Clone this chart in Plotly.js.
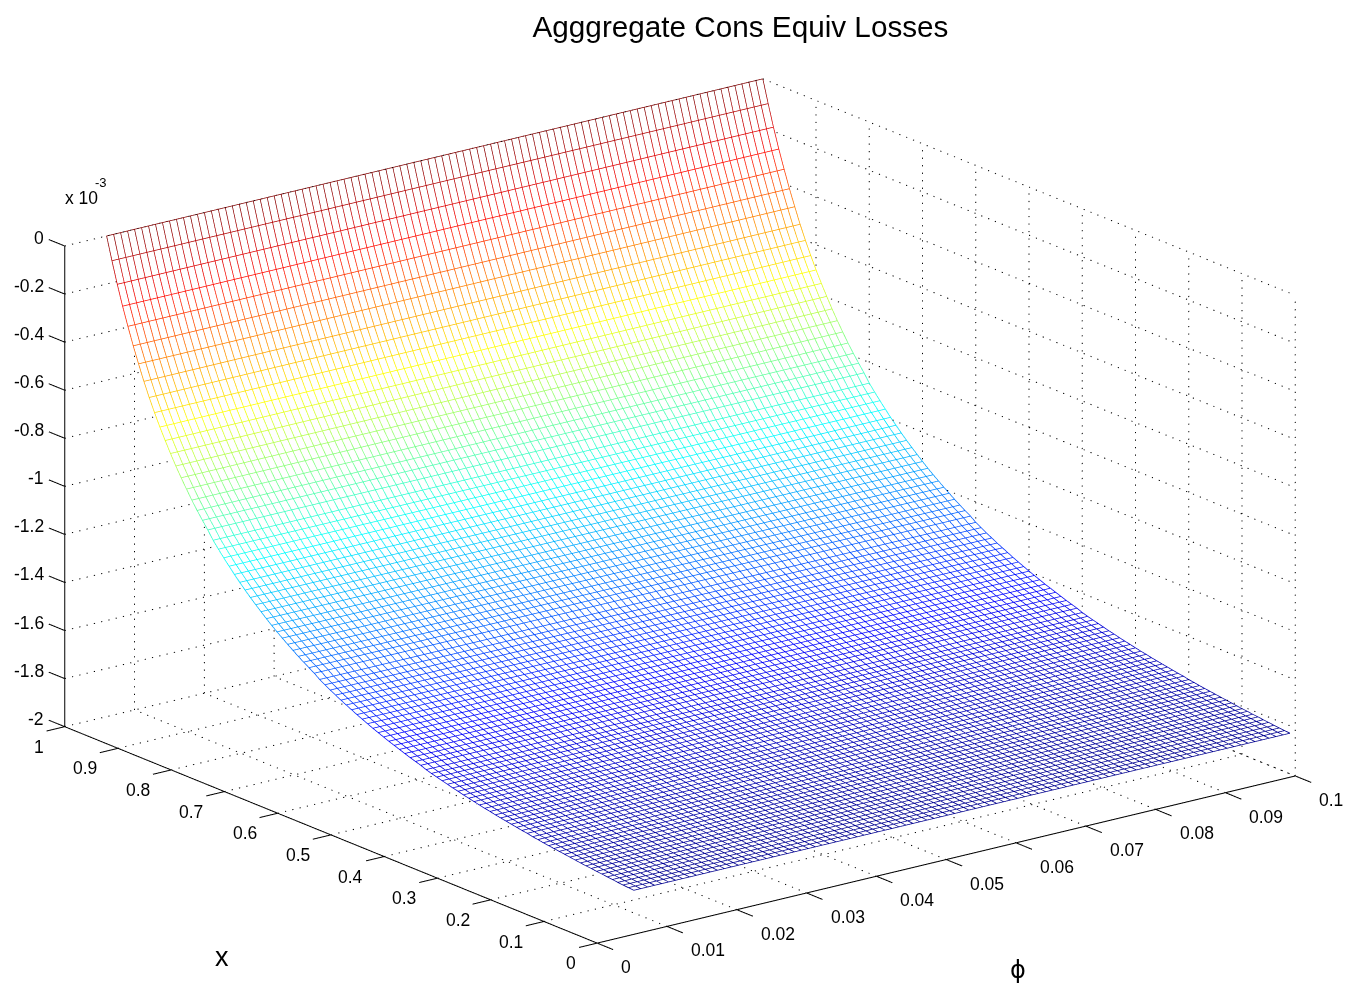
<!DOCTYPE html>
<html><head><meta charset="utf-8">
<script src="https://cdn.plot.ly/plotly-3.0.1.min.js"></script>
<style>html,body{margin:0;padding:0;background:#fff}#c{width:1348px;height:984px}</style>
</head><body><div id="c"></div>
<script>
// x rows, from the back edge (x=1) to the front edge (x=0.01)
const xRows = [1,.99,.98,.97,.96,.95,.94,.93,.92,.91,.90,.89,.88,.87,.86,.85,.84,.83,.82,.81,.80,.79,.78,.77,.76,.75,.74,.73,.72,.71,.70,.69,.68,.67,.66,.65,.64,.63,.62,.61,.60,.59,.58,.57,.56,.55,.54,.53,.52,.51,.50,.49,.48,.47,.46,.45,.44,.43,.42,.41,.40,.39,.38,.37,.36,.35,.34,.33,.32,.31,.30,.29,.28,.27,.26,.25,.24,.23,.22,.21,.20,.19,.18,.17,.16,.15,.14,.13,.12,.11,.10,.09,.08,.07,.06,.05,.04,.03,.02,.01];
// loss (x 10^-3) read along the surface edge for each x row
const lossByX = [0,-.094,-.183,-.265,-.340,-.412,-.478,-.542,-.600,-.654,-.705,-.752,-.797,-.840,-.880,-.918,-.955,-.989,-1.021,-1.052,-1.086,-1.114,-1.141,-1.167,-1.192,-1.216,-1.239,-1.261,-1.282,-1.302,-1.322,-1.341,-1.359,-1.376,-1.393,-1.409,-1.425,-1.440,-1.454,-1.468,-1.485,-1.498,-1.511,-1.523,-1.535,-1.546,-1.557,-1.568,-1.578,-1.588,-1.598,-1.607,-1.616,-1.625,-1.633,-1.641,-1.649,-1.657,-1.664,-1.671,-1.680,-1.687,-1.693,-1.699,-1.705,-1.711,-1.716,-1.722,-1.727,-1.732,-1.737,-1.742,-1.746,-1.751,-1.755,-1.759,-1.763,-1.767,-1.771,-1.774,-1.779,-1.782,-1.786,-1.789,-1.792,-1.795,-1.798,-1.801,-1.804,-1.807,-1.810,-1.812,-1.815,-1.817,-1.820,-1.822,-1.825,-1.827,-1.829,-1.831];
// phi columns
const phiCols = [.006,.007,.008,.009,.010,.011,.012,.013,.014,.015,.016,.017,.018,.019,.020,.021,.022,.023,.024,.025,.026,.027,.028,.029,.030,.031,.032,.033,.034,.035,.036,.037,.038,.039,.040,.041,.042,.043,.044,.045,.046,.047,.048,.049,.050,.051,.052,.053,.054,.055,.056,.057,.058,.059,.060,.061,.062,.063,.064,.065,.066,.067,.068,.069,.070,.071,.072,.073,.074,.075,.076,.077,.078,.079,.080,.081,.082,.083,.084,.085,.086,.087,.088,.089,.090,.091,.092,.093,.094,.095,.096,.097,.098,.099,.100];
const phiTicks = [0,.01,.02,.03,.04,.05,.06,.07,.08,.09,.1];
const xTicks = [0,.1,.2,.3,.4,.5,.6,.7,.8,.9,1];
const zTicks = [0,-.2,-.4,-.6,-.8,-1,-1.2,-1.4,-1.6,-1.8,-2];
const phiMax=.1, xMax=1, zMin=-2, zMax=0;
const tickPhi=.0026, tickX=.03;

const jet=[[0,'rgb(0,0,143)'],[.11,'rgb(0,0,255)'],[.365,'rgb(0,255,255)'],[.615,'rgb(255,255,0)'],[.865,'rgb(255,0,0)'],[1,'rgb(128,0,0)']];
const hideOffset=.004;
function segs(list){const o={x:[],y:[],z:[]};list.forEach(s=>{o.x.push(s[0][0],s[1][0],null);o.y.push(s[0][1],s[1][1],null);o.z.push(s[0][2],s[1][2],null);});return o;}
// split one grid line into short dots, MATLAB-style
function dotted(s,n,out){for(let i=0;i<n;i++){const f0=i/n,f1=(i+.16)/n;
  const p=f=>[0,1,2].map(k=>s[0][k]+(s[1][k]-s[0][k])*f);out.push([p(f0),p(f1)]);}}

const fill={type:'surface',x:phiCols,y:xRows,z:lossByX.map(v=>phiCols.map(()=>v-hideOffset)),
  surfacecolor:lossByX.map(()=>phiCols.map(()=>0)),colorscale:[[0,'#fff'],[1,'#fff']],cmin:0,cmax:1,showscale:false,
  lighting:{ambient:1,diffuse:0,specular:0,roughness:1,fresnel:0},hoverinfo:'skip'};

const mx=[],my=[],mz=[],mc=[];
xRows.forEach((xv,i)=>{phiCols.forEach(p=>{mx.push(p);my.push(xv);mz.push(lossByX[i]);mc.push(lossByX[i]);});mx.push(null);my.push(null);mz.push(null);mc.push(0);});
phiCols.forEach(p=>{xRows.forEach((xv,i)=>{mx.push(p);my.push(xv);mz.push(lossByX[i]);mc.push(lossByX[i]);});mx.push(null);my.push(null);mz.push(null);mc.push(0);});
const mesh={type:'scatter3d',mode:'lines',x:mx,y:my,z:mz,line:{color:mc,colorscale:jet,cmin:-1.831,cmax:0,width:1.5,showscale:false},hoverinfo:'skip',showlegend:false};

const dotsPhi=96,dotsX=78,dotsZ=64;
const g=[];
xTicks.forEach(t=>{dotted([[0,t,zMin],[phiMax,t,zMin]],dotsPhi,g);dotted([[phiMax,t,zMin],[phiMax,t,zMax]],dotsZ,g);});
phiTicks.forEach(t=>{dotted([[t,0,zMin],[t,xMax,zMin]],dotsX,g);dotted([[t,xMax,zMin],[t,xMax,zMax]],dotsZ,g);});
zTicks.forEach(t=>{dotted([[0,xMax,t],[phiMax,xMax,t]],dotsPhi,g);dotted([[phiMax,xMax,t],[phiMax,0,t]],dotsX,g);});
const gs=segs(g);
const grid={type:'scatter3d',mode:'lines',x:gs.x,y:gs.y,z:gs.z,line:{color:'#000',width:2},hoverinfo:'skip',showlegend:false};

const a=[[[0,xMax,zMin],[0,xMax,zMax]],[[0,0,zMin],[0,xMax,zMin]],[[0,0,zMin],[phiMax,0,zMin]]];
xTicks.forEach(t=>a.push([[0,t,zMin],[-tickPhi,t,zMin]]));
phiTicks.forEach(t=>a.push([[t,0,zMin],[t,-tickX,zMin]]));
zTicks.forEach(t=>a.push([[0,xMax,t],[0,xMax+tickX,t]]));
const as=segs(a);
const axes={type:'scatter3d',mode:'lines',x:as.x,y:as.y,z:as.z,line:{color:'#000',width:2},hoverinfo:'skip',showlegend:false};

const tf={family:'Liberation Sans, Arial, sans-serif',size:17.5,color:'#000'};
const ann=[];
zTicks.forEach(t=>ann.push({x:0,y:xMax,z:t,text:String(t),xanchor:'right',yanchor:'middle',xshift:-19,yshift:8,showarrow:false,font:tf}));
xTicks.forEach(t=>ann.push({x:0,y:t,z:zMin,text:String(t),xanchor:'right',yanchor:'middle',xshift:-19,yshift:-20,showarrow:false,font:tf}));
phiTicks.forEach(t=>ann.push({x:t,y:0,z:zMin,text:String(t),xanchor:'left',yanchor:'middle',xshift:22,yshift:-24,showarrow:false,font:tf}));
ann.push({x:0,y:.5,z:zMin,text:'x',xanchor:'center',yanchor:'middle',xshift:-109,yshift:-122,showarrow:false,font:{family:'Liberation Sans, Arial, sans-serif',size:27,color:'#000'}});
ann.push({x:.05,y:0,z:zMin,text:'ϕ',xanchor:'center',yanchor:'middle',xshift:72,yshift:-110,showarrow:false,font:{family:'DejaVu Sans, sans-serif',size:24,color:'#000'}});
ann.push({x:0,y:xMax,z:zMax,text:'x 10',xanchor:'left',yanchor:'middle',xshift:-2,yshift:48,showarrow:false,font:tf});
ann.push({x:0,y:xMax,z:zMax,text:'-3',xanchor:'center',yanchor:'middle',xshift:36,yshift:63,showarrow:false,font:{family:'Liberation Sans, Arial, sans-serif',size:13,color:'#000'}});

const off={visible:false,autorange:false,showgrid:false,zeroline:false,showspikes:false};
const layout={width:1348,height:984,margin:{l:0,r:0,t:0,b:0},paper_bgcolor:'#fff',showlegend:false,
  title:{text:'Agggregate Cons Equiv Losses',x:740.5/1348,xanchor:'center',y:1-27/984,yanchor:'middle',font:{family:'Liberation Sans, Arial, sans-serif',size:29.7,color:'#000'}},
  scene:{domain:{x:[.0089,1],y:[0,946/984]},aspectmode:'manual',aspectratio:{x:1.972,y:1.96,z:1.091},
    xaxis:Object.assign({},off,{range:[-.003,.103],tickvals:phiTicks}),
    yaxis:Object.assign({},off,{range:[-.03,1.03],tickvals:xTicks}),
    zaxis:Object.assign({},off,{range:[-2.02,.02],tickvals:zTicks}),
    camera:{projection:{type:'orthographic'},up:{x:0,y:0,z:1},center:{x:0,y:0,z:0},eye:{x:-.5784*1.2,y:-.7537*1.2,z:.312*1.2}},
    annotations:ann}};
Plotly.newPlot('c',[fill,grid,axes,mesh],layout,{displayModeBar:false});
</script></body></html>
